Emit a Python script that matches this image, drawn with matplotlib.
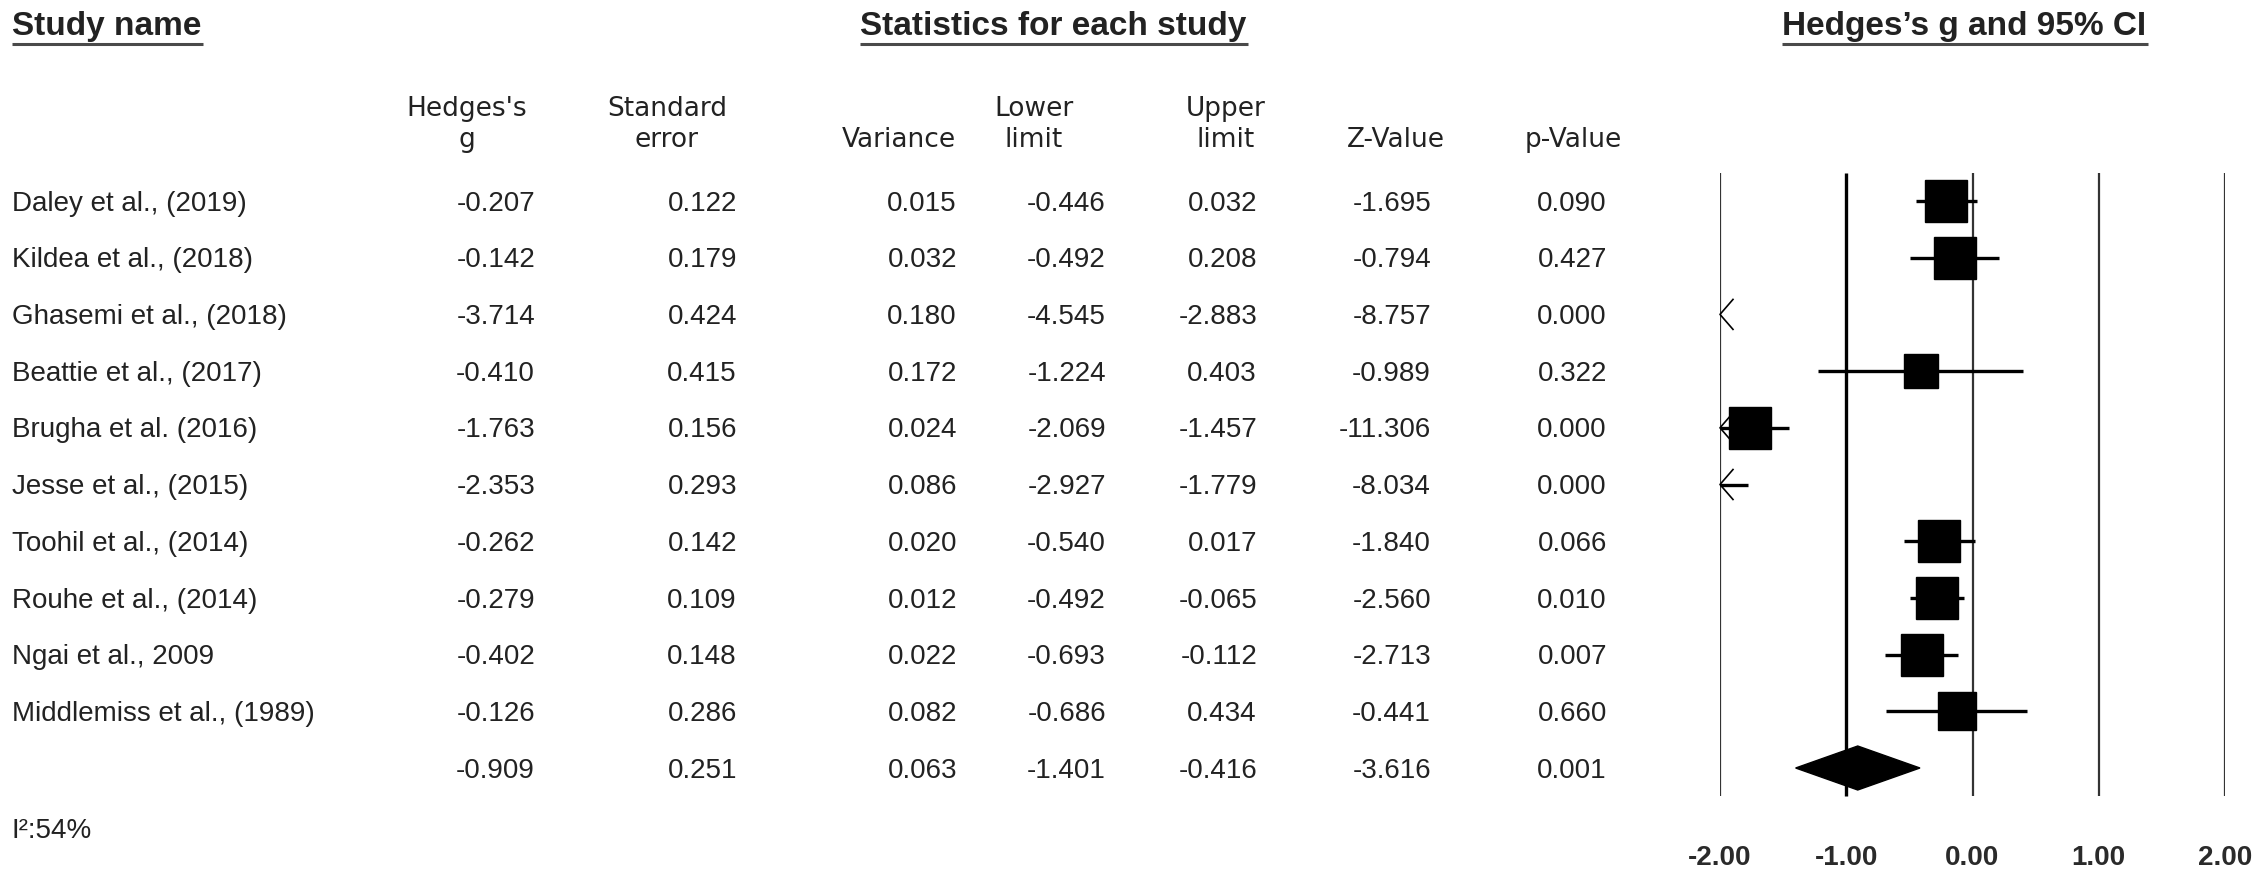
import matplotlib
matplotlib.use("Agg")
import matplotlib.pyplot as plt
import numpy as np
from matplotlib.patches import Polygon

plt.rcParams['font.family'] = ['Liberation Sans', 'DejaVu Sans']

# study level data
studies = ["Daley et al., (2019)", "Kildea et al., (2018)", "Ghasemi et al., (2018)",
           "Beattie et al., (2017)", "Brugha et al. (2016)", "Jesse et al., (2015)",
           "Toohil et al., (2014)", "Rouhe et al., (2014)", "Ngai et al., 2009",
           "Middlemiss et al., (1989)"]
hedges_g = [-0.207, -0.142, -3.714, -0.410, -1.763, -2.353, -0.262, -0.279, -0.402, -0.126]
std_err = [0.122, 0.179, 0.424, 0.415, 0.156, 0.293, 0.142, 0.109, 0.148, 0.286]
variance = [0.015, 0.032, 0.180, 0.172, 0.024, 0.086, 0.020, 0.012, 0.022, 0.082]
lower = [-0.446, -0.492, -4.545, -1.224, -2.069, -2.927, -0.540, -0.492, -0.693, -0.686]
upper = [0.032, 0.208, -2.883, 0.403, -1.457, -1.779, 0.017, -0.065, -0.112, 0.434]
z_value = [-1.695, -0.794, -8.757, -0.989, -11.306, -8.034, -1.840, -2.560, -2.713, -0.441]
p_value = [0.090, 0.427, 0.000, 0.322, 0.000, 0.000, 0.066, 0.010, 0.007, 0.660]

# pooled (random effects) row
pooled = [-0.909, 0.251, 0.063, -1.401, -0.416, -3.616, 0.001]
i_squared = "I²:54%"
tau2 = 0.55  # used only for box weights

col_heads = [("Hedges's", "g"), ("Standard", "error"), ("", "Variance"), ("Lower", "limit"),
             ("Upper", "limit"), ("", "Z-Value"), ("", "p-Value")]
ticks = [-2.0, -1.0, 0.0, 1.0, 2.0]

W, H = 2268, 881
ink = "#222222"
row0_px, row_px = 201, 56.7


def row_of(px):
    return (px - row0_px) / row_px


fig = plt.figure(figsize=(W / 100, H / 100), dpi=100)
tab = fig.add_axes([0, 0, 1, 1])
tab.set_xlim(0, W)
tab.set_ylim(row_of(H), row_of(0))
tab.axis("off")

forest = fig.add_axes([1720 / W, 0, 505 / W, 1])
forest.set_xlim(-2, 2)
forest.set_ylim(row_of(H), row_of(0))
forest.axis("off")

renderer = fig.canvas.get_renderer()

# top headers with underline
for label, x, ha in [("Study name", 12, "left"),
                     ("Statistics for each study", 1053, "center"),
                     ("Hedges\u2019s g and 95% CI", 1964, "center")]:
    t = tab.text(x, row_of(35), label, ha=ha, va="baseline", fontsize=24,
                 fontweight="bold", color=ink)
    bb = t.get_window_extent(renderer)
    tab.plot([bb.x0, bb.x1 + 2], [row_of(44)] * 2, color="#4a4a4a", lw=2.2,
             solid_capstyle="butt")

# column headers
head_x = [467, 667, 899, 1034, 1226, 1396, 1573]
for (l1, l2), x in zip(col_heads, head_x):
    if l1:
        tab.text(x, row_of(116), l1, ha="center", va="baseline", fontsize=19,
                 family="DejaVu Sans", color=ink)
    tab.text(x, row_of(147), l2, ha="center", va="baseline", fontsize=19,
             family="DejaVu Sans", color=ink)

# table body
val_right = [535, 737, 957, 1106, 1257, 1431, 1607]
columns = [hedges_g, std_err, variance, lower, upper, z_value, p_value]
for i, name in enumerate(studies):
    tab.text(12, i + 0.17, name, ha="left", va="baseline", fontsize=20, color=ink)
    for col, x in zip(columns, val_right):
        tab.text(x, i + 0.17, f"{col[i]:.3f}", ha="right", va="baseline",
                 fontsize=20, color=ink)
n = len(studies)
for v, x in zip(pooled, val_right):
    tab.text(x, n + 0.17, f"{v:.3f}", ha="right", va="baseline", fontsize=20, color=ink)

tab.text(12, row_of(828) + 0.17, i_squared, ha="left", va="baseline", fontsize=20, color=ink)

# forest: reference lines
widths = [1.6 if t != -1.0 else 2.4 for t in ticks]
colors = ["#333333" if t != -1.0 else "#000000" for t in ticks]
forest.vlines(ticks, -0.5, n + 0.5, colors=colors, linewidths=widths)
for t in ticks:
    forest.text(t, row_of(858), f"{t:.2f}", ha="center", va="center", fontsize=20,
                fontweight="bold", color="#2a2a2a", clip_on=False)

# forest: studies
lo_lim, hi_lim = forest.get_xlim()
arm_dx = 13 / 126.25
arm_dy = 15 / row_px
weights = 1.0 / (np.array(variance) + tau2)
sides_pt = 43 * weights / weights.max() * 0.72
for i in range(n):
    lo = max(lower[i], lo_lim)
    hi = min(upper[i], hi_lim)
    if hi > lo:
        forest.plot([lo, hi], [i, i], color="black", lw=2.4, solid_capstyle="butt")
    if lower[i] < lo_lim:
        forest.plot([lo_lim + arm_dx, lo_lim, lo_lim + arm_dx], [i - arm_dy, i, i + arm_dy],
                    color="black", lw=1.2, clip_on=False)
    if lo_lim <= hedges_g[i] <= hi_lim:
        forest.plot(hedges_g[i], i, marker="s", ms=sides_pt[i], color="black", mec="black")

# forest: pooled diamond
g, lo, hi = pooled[0], pooled[3], pooled[4]
dh = 22 / row_px
forest.add_patch(Polygon([(lo, n), (g, n - dh), (hi, n), (g, n + dh)], closed=True,
                         facecolor="black", edgecolor="black", lw=1))

fig.savefig("out.png", dpi=100)
